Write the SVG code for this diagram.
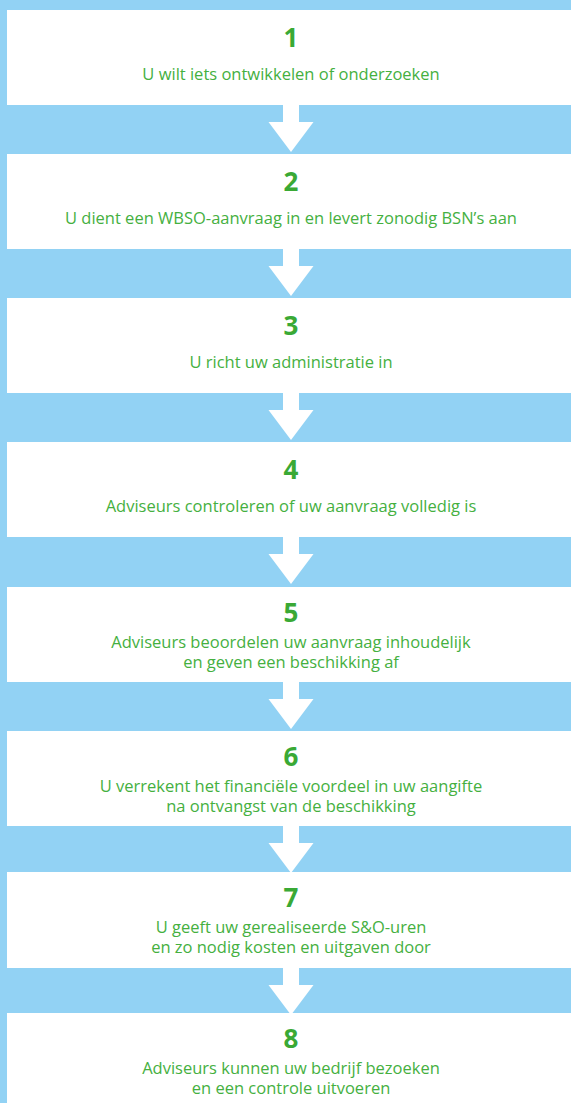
<svg xmlns="http://www.w3.org/2000/svg" width="571" height="1103" viewBox="0 0 571 1103">
<style>
.box{fill:#ffffff}
.num{font-family:"Open Sans","Noto Sans",sans-serif;font-weight:700;font-size:26px;fill:#3aa935;text-anchor:middle}
.txt{font-family:"Open Sans","Noto Sans",sans-serif;font-size:16.5px;fill:#45b03f;text-anchor:middle}
.arr{fill:#ffffff}
</style>
<defs>
<path id="arrow" class="arr" d="M283,0 H299 V17 H313.5 L291,47 L268.5,17 H283 Z"/>
</defs>
<rect x="0" y="0" width="571" height="1103" fill="#92d2f4"/>
<g id="step1"><rect class="box" x="7" y="10" width="564" height="95"/><text class="num" x="291" y="47">1</text><text class="txt" x="291" y="80">U wilt iets ontwikkelen of onderzoeken</text></g>
<g id="step2"><rect class="box" x="7" y="154" width="564" height="95"/><text class="num" x="291" y="191">2</text><text class="txt" x="291" y="224">U dient een WBSO-aanvraag in en levert zonodig BSN’s aan</text></g>
<g id="step3"><rect class="box" x="7" y="298" width="564" height="95"/><text class="num" x="291" y="335">3</text><text class="txt" x="291" y="368">U richt uw administratie in</text></g>
<g id="step4"><rect class="box" x="7" y="442" width="564" height="95"/><text class="num" x="291" y="479">4</text><text class="txt" x="291" y="512">Adviseurs controleren of uw aanvraag volledig is</text></g>
<g id="step5"><rect class="box" x="7" y="587" width="564" height="95"/><text class="num" x="291" y="622">5</text><text class="txt" x="291" y="647.5">Adviseurs beoordelen uw aanvraag inhoudelijk</text><text class="txt" x="291" y="668">en geven een beschikking af</text></g>
<g id="step6"><rect class="box" x="7" y="731" width="564" height="95"/><text class="num" x="291" y="766">6</text><text class="txt" x="291" y="791.5">U verrekent het financiële voordeel in uw aangifte</text><text class="txt" x="291" y="812">na ontvangst van de beschikking</text></g>
<g id="step7"><rect class="box" x="7" y="872" width="564" height="96"/><text class="num" x="291" y="907">7</text><text class="txt" x="291" y="932.5">U geeft uw gerealiseerde S&amp;O-uren</text><text class="txt" x="291" y="953">en zo nodig kosten en uitgaven door</text></g>
<g id="step8"><rect class="box" x="7" y="1013" width="564" height="90"/><text class="num" x="291" y="1048">8</text><text class="txt" x="291" y="1073.5">Adviseurs kunnen uw bedrijf bezoeken</text><text class="txt" x="291" y="1094">en een controle uitvoeren</text></g>
<g id="connectors">
<use href="#arrow" y="105"/>
<use href="#arrow" y="249"/>
<use href="#arrow" y="393"/>
<use href="#arrow" y="537"/>
<use href="#arrow" y="682"/>
<use href="#arrow" y="826"/>
<use href="#arrow" y="968"/>
</g>
</svg>
